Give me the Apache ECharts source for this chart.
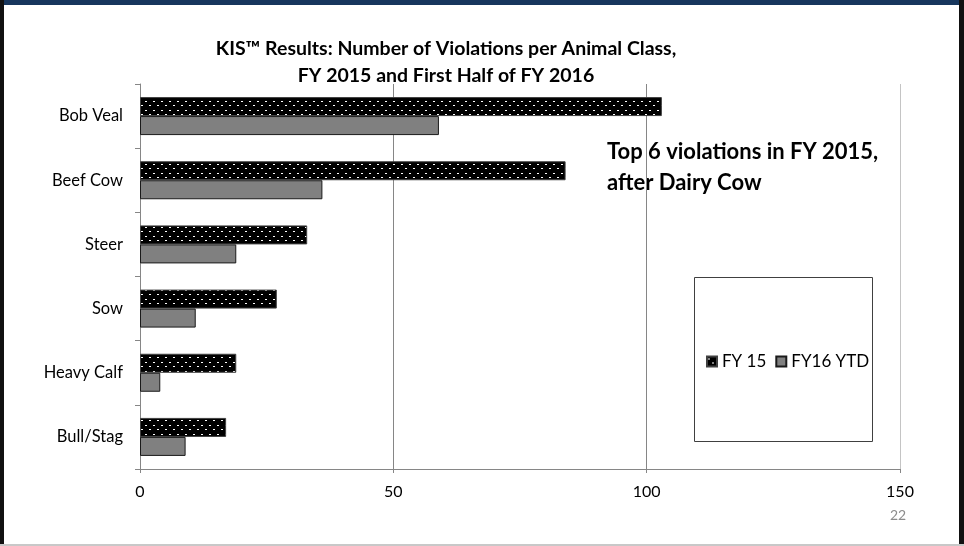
<!DOCTYPE html>
<html>
<head>
<meta charset="utf-8">
<script src="https://cdn.jsdelivr.net/npm/echarts@6/dist/echarts.min.js"></script>
<style>
    html, body { margin: 0; padding: 0; background: #fff; }
    #main { width: 964px; height: 546px; }
</style>
</head>
<body>
<div id="main"></div>
<script>
// 数据
const categories = ['Bob Veal', 'Beef Cow', 'Steer', 'Sow', 'Heavy Calf', 'Bull/Stag']
const fy15 = [103, 84, 33, 27, 19, 17]
const fy16 = [59, 36, 19, 11, 4, 9]
const seriesNames = ['FY 15', 'FY16 YTD']
const xTicks = { min: 0, max: 150, interval: 50 }

const FONT = 'Lato, "Open Sans", sans-serif'

// 黑底白点的填充
function makeDots() {
    const c = document.createElement('canvas')
    c.width = 8
    c.height = 9
    const ctx = c.getContext('2d')
    ctx.fillStyle = '#000'
    ctx.fillRect(0, 0, 8, 9)
    ctx.fillStyle = '#fff'
    ctx.fillRect(1, 2, 2, 1)
    ctx.fillRect(5, 6, 2, 1)
    return c
}
const dots = { image: makeDots(), repeat: 'repeat' }

const myChart = echarts.init(document.getElementById('main'))
myChart.setOption({
    animation: false,
    title: {
        text: 'KIS\u2122 Results: Number of Violations per Animal Class,\nFY 2015 and First Half of FY 2016',
        left: 441,
        top: 30,
        textAlign: 'center',
        textStyle: { fontFamily: FONT, fontSize: 19.5, fontWeight: 'bold', color: '#000', lineHeight: 27 }
    },
    legend: {
        left: 701,
        top: 348,
        icon: 'rect',
        itemWidth: 10,
        itemHeight: 10,
        itemGap: 9,
        textStyle: { fontFamily: FONT, fontSize: 17, color: '#000' },
        data: seriesNames
    },
    grid: { left: 140, right: 64, top: 84, bottom: 77, containLabel: false },
    xAxis: {
        type: 'value',
        min: xTicks.min,
        max: xTicks.max,
        interval: xTicks.interval,
        axisLine: { show: true, lineStyle: { color: '#868686' } },
        axisTick: { show: true, length: 4, lineStyle: { color: '#868686' } },
        axisLabel: { fontFamily: FONT, fontSize: 16, color: '#000', margin: 15 },
        splitLine: { show: true, lineStyle: { color: ['#868686', '#868686', '#868686', '#c4c4c4'], width: 1 } }
    },
    yAxis: {
        type: 'category',
        inverse: true,
        data: categories,
        axisLine: { show: true, lineStyle: { color: '#868686' } },
        axisTick: { show: true, length: 5, lineStyle: { color: '#868686' } },
        axisLabel: { fontFamily: FONT, fontSize: 16.5, color: '#000', margin: 17 }
    },
    series: [
        {
            name: seriesNames[0],
            type: 'bar',
            data: fy15,
            barWidth: 19,
            barGap: '0%',
            itemStyle: { color: dots, borderColor: '#404040', borderWidth: 1 }
        },
        {
            name: seriesNames[1],
            type: 'bar',
            data: fy16,
            barWidth: 19,
            itemStyle: { color: '#808080', borderColor: '#1a1a1a', borderWidth: 1 }
        }
    ],
    graphic: [
        // 页面边框
        { type: 'rect', shape: { x: 0, y: 0, width: 964, height: 5 }, style: { fill: '#17365d' } },
        { type: 'rect', shape: { x: 0, y: 0, width: 4, height: 546 }, style: { fill: '#111' } },
        { type: 'rect', shape: { x: 959, y: 0, width: 5, height: 546 }, style: { fill: '#111' } },
        { type: 'rect', shape: { x: 0, y: 544, width: 964, height: 2 }, style: { fill: '#c8c8c8' } },
        // 图例框
        {
            type: 'rect',
            shape: { x: 694.5, y: 277.5, width: 178, height: 164 },
            style: { fill: 'none', stroke: '#404040', lineWidth: 1 },
            z: 0
        },
        {
            type: 'text',
            left: 607,
            top: 136,
            style: {
                text: 'Top 6 violations in FY 2015,\nafter Dairy Cow',
                font: 'bold 22px ' + FONT,
                fill: '#000',
                lineHeight: 31
            }
        },
        {
            type: 'text',
            left: 890,
            top: 508,
            style: { text: '22', font: '14px ' + FONT, fill: '#8c8c8c' }
        }
    ]
})
</script>
</body>
</html>
